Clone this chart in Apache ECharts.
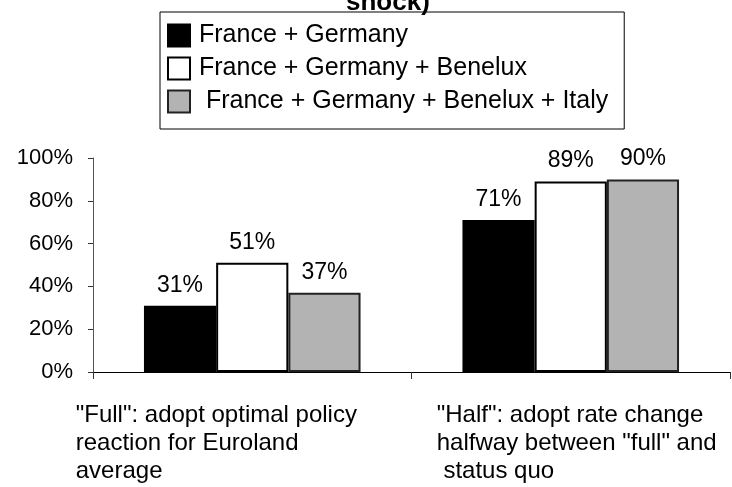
<!DOCTYPE html>
<html>
<head>
<meta charset="utf-8">
<script src="https://cdn.jsdelivr.net/npm/echarts@6/dist/echarts.min.js"></script>
<style>
  html, body { margin: 0; padding: 0; background: #fff; }
  #chart { width: 732px; height: 487px; }
</style>
</head>
<body>
<div id="chart"></div>
<script>
// data
const categories = [
  '"Full": adopt optimal policy\nreaction for Euroland\naverage',
  '"Half": adopt rate change\nhalfway between "full" and\n status quo'
];
const seriesNames = ['France + Germany', 'France + Germany + Benelux', ' France + Germany + Benelux + Italy'];
const franceGermany = [31, 71];
const plusBenelux = [51, 89];
const plusItaly = [37, 90];
const titleText = 'shock)';

const FONT = 'Liberation Sans, Arial, sans-serif';

const chart = echarts.init(document.getElementById('chart'));

const labelStyle = {
  show: true,
  position: 'top',
  distance: 9,
  formatter: '{c}%',
  fontFamily: FONT,
  fontSize: 23,
  color: '#000'
};

function barSeries(name, data, fill, border) {
  return {
    name: name,
    type: 'bar',
    data: data,
    barGap: 0,
    barCategoryGap: '32%',
    itemStyle: { color: fill, borderColor: border, borderWidth: 2 },
    label: labelStyle,
    emphasis: { disabled: true }
  };
}

chart.setOption({
  animation: false,
  backgroundColor: '#fff',
  textStyle: { fontFamily: FONT },
  title: {
    text: titleText,
    left: 341,
    top: -15,
    textStyle: { fontFamily: FONT, fontSize: 26, fontWeight: 'bold', color: '#000' }
  },
  legend: {
    orient: 'vertical',
    left: 160,
    top: 12,
    padding: [11, 16, 15, 7],
    itemGap: 8,
    itemWidth: 22,
    itemHeight: 22,
    icon: 'rect',
    borderColor: '#000',
    borderWidth: 1,
    itemStyle: { borderWidth: 2 },
    textStyle: { fontFamily: FONT, fontSize: 25, color: '#000', padding: [0, 0, 0, 4] },
    data: seriesNames
  },
  grid: { left: 93, right: 2, top: 158, bottom: 115, containLabel: false, outerBoundsMode: 'none' },
  xAxis: {
    type: 'category',
    data: categories,
    boundaryGap: true,
    axisLine: { lineStyle: { color: '#000', width: 1 } },
    axisTick: { show: true, alignWithLabel: false, length: 7, lineStyle: { color: '#333' } },
    axisLabel: {
      interval: 0,
      margin: 29,
      hideOverlap: false,
      formatter: function (value, idx) {
        return value.split('\n').map(function (l) { return '{c' + idx + '|' + l + '}'; }).join('\n');
      },
      rich: {
        c0: { fontFamily: FONT, fontSize: 24, color: '#000', lineHeight: 28, width: 353, align: 'left' },
        c1: { fontFamily: FONT, fontSize: 24, color: '#000', lineHeight: 28, width: 290, align: 'left', padding: [0, 0, 0, 22] }
      }
    }
  },
  yAxis: {
    type: 'value',
    min: 0,
    max: 100,
    interval: 20,
    splitLine: { show: false },
    axisLine: { show: true, lineStyle: { color: '#555', width: 1 } },
    axisTick: { show: true, length: 5, lineStyle: { color: '#333' } },
    axisLabel: { formatter: '{value}%', fontFamily: FONT, fontSize: 22, color: '#000', margin: 20 }
  },
  series: [
    barSeries(seriesNames[0], franceGermany, '#000', '#000'),
    barSeries(seriesNames[1], plusBenelux, '#fff', '#000'),
    barSeries(seriesNames[2], plusItaly, '#b3b3b3', '#222')
  ]
});
</script>
</body>
</html>
